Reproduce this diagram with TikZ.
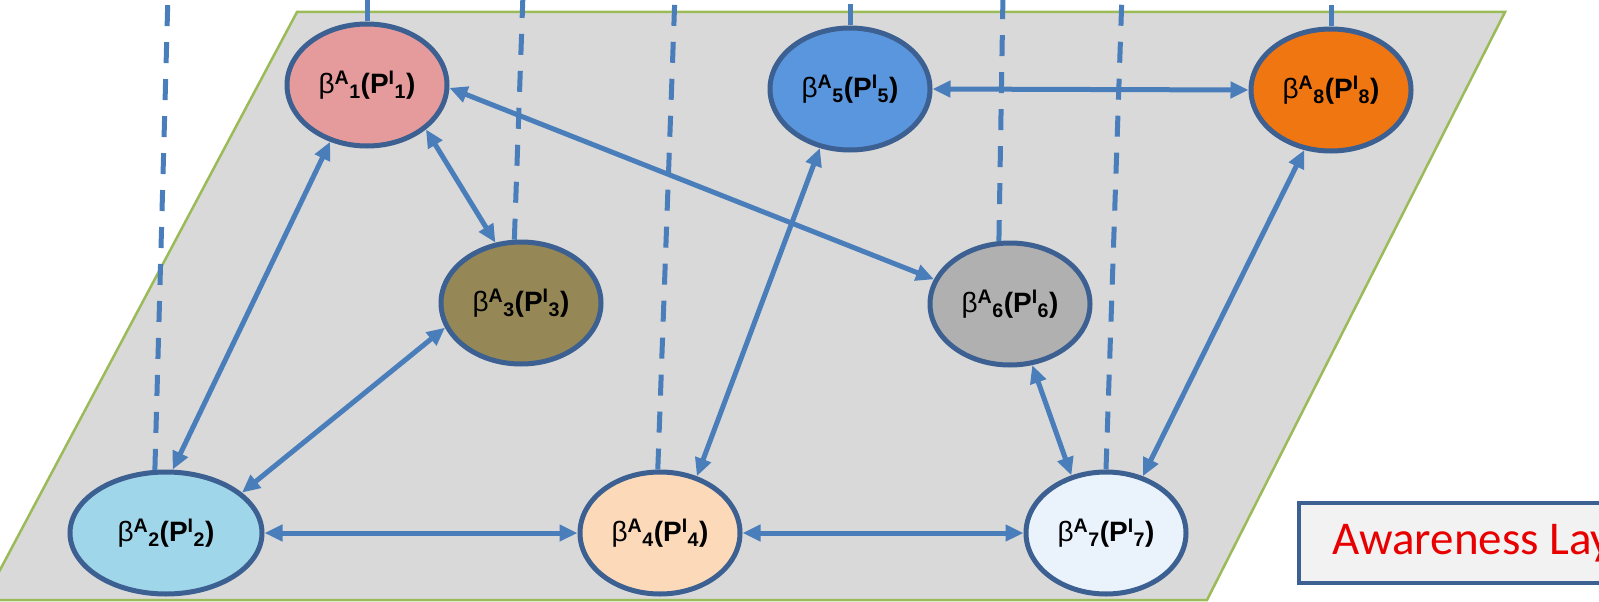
\documentclass[tikz,border=0pt]{standalone}
\usepackage{fontspec}
\setmainfont{Liberation Sans}
\newfontfamily\lawfont{Carlito}
\usetikzlibrary{calc}
\usetikzlibrary{shapes}
\usetikzlibrary{arrows.meta}
\usetikzlibrary{positioning}

\definecolor{planegray}{RGB}{217,217,217}
\definecolor{planegreen}{RGB}{155,187,89}
\definecolor{rimblue}{RGB}{60,96,145}
\definecolor{linkblue}{RGB}{74,126,187}
\definecolor{fillone}{RGB}{229,155,155}
\definecolor{filltwo}{RGB}{160,214,234}
\definecolor{fillthree}{RGB}{150,136,86}
\definecolor{fillfour}{RGB}{252,217,184}
\definecolor{fillfive}{RGB}{90,150,222}
\definecolor{fillsix}{RGB}{176,176,176}
\definecolor{fillseven}{RGB}{234,243,252}
\definecolor{filleight}{RGB}{240,118,18}
\definecolor{lawred}{RGB}{232,0,0}
\definecolor{lawfill}{RGB}{242,242,242}

\pgfdeclareverticalshading{planeshade}{100bp}{color(0bp)=(planegray!35!white); color(9bp)=(planegray); color(100bp)=(planegray)}

\newcommand{\bname}[1]{{\mdseries β}\textsuperscript{A}\textsubscript{#1}(P\textsuperscript{I}\textsubscript{#1})}

\begin{document}
\begin{tikzpicture}[x=1pt, y=-1pt,
  belief/.style={ellipse, draw=rimblue, line width=5pt, minimum width=160pt, minimum height=122pt, inner sep=0pt, font=\fontsize{28}{32}\selectfont\bfseries},
  link/.style={{Triangle[length=18pt,width=16pt]}-{Triangle[length=18pt,width=16pt]}, draw=linkblue, line width=5pt},
  vline/.style={draw=linkblue, line width=5pt, dash pattern=on 21pt off 16pt},
  lawbox/.style={rectangle, draw=rimblue, line width=4pt, fill=lawfill, minimum height=80pt, inner xsep=33pt, text=lawred, font=\lawfont\fontsize{47}{52}\selectfont}]
\useasboundingbox (0,0) rectangle (1599,602);
\clip (0,0) rectangle (1599,602);
\draw[planegreen, line width=2.5pt, shading=planeshade] (297,12) -- (1505,12) -- (1207,600) -- (-16,600) -- cycle;
\draw (367,85) node[belief, fill=fillone, name=b1]{\bname{1}};
\draw (166,533) node[belief, fill=filltwo, minimum width=192pt, name=b2]{\bname{2}};
\draw (521,303) node[belief, fill=fillthree, name=b3]{\bname{3}};
\draw (b2) + (494,0) node[belief, fill=fillfour, name=b4]{\bname{4}};
\draw (850,89) node[belief, fill=fillfive, name=b5]{\bname{5}};
\draw (1010,304) node[belief, fill=fillsix, name=b6]{\bname{6}};
\draw (b4) + (446,0) node[belief, fill=fillseven, name=b7]{\bname{7}};
\draw (b5) + (481,1) node[belief, fill=filleight, name=b8]{\bname{8}};
\foreach \n/\ang/\tx in {b1/90/367, b2/100/168, b3/96/523, b4/92/675, b5/90/850, b6/100/1003, b7/90/1122, b8/90/1331}{
  \coordinate (top\n) at (\tx,-6);
  \draw[vline] (\n.\ang) -- (top\n);
}
\draw[link] (b2.84) -- (b1.237);
\draw[link] (b1.323) -- (b3.113);
\draw[link] (b1.358) -- (b6.162);
\draw[link] (b2.28) -- (b3.198);
\draw[link] (b2.east) -- (b4.west);
\draw[link] (b4.57) -- (b5.243);
\draw[link] (b4.east) -- (b7.west);
\draw[link] (b5.east) -- (b8.west);
\draw[link] (b6.290) -- (b7.121);
\draw[link] (b7.57) -- (b8.246);
\draw (1297,543) node[lawbox, anchor=west, name=law]{Awareness Layer};
\end{tikzpicture}
\end{document}
